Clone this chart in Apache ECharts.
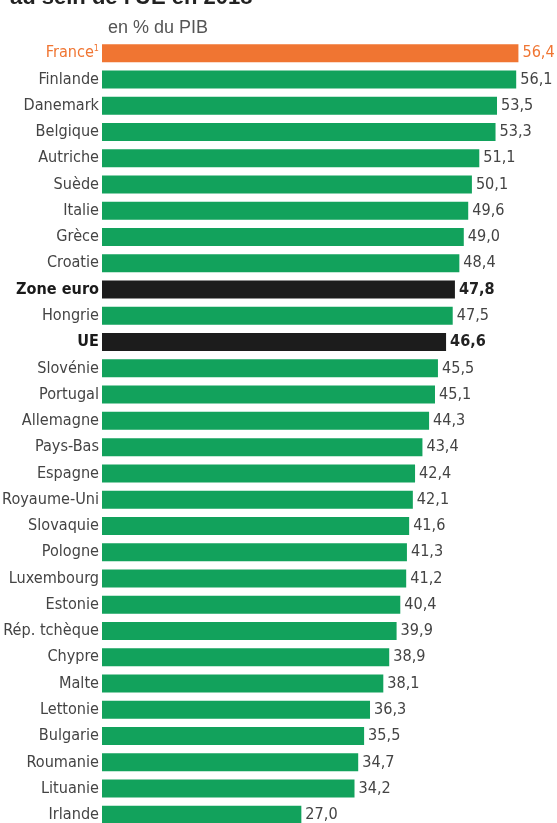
<!DOCTYPE html>
<html>
<head>
<meta charset="utf-8">
<script src="https://cdn.jsdelivr.net/npm/echarts@6/dist/echarts.min.js"></script>
<style>
html,body{margin:0;padding:0;background:#fff;}
#chart{width:557px;height:823px;}
</style>
</head>
<body>
<div id="chart"></div>
<script>
const categories = ["France","Finlande","Danemark","Belgique","Autriche","Suède","Italie","Grèce","Croatie","Zone euro","Hongrie","UE","Slovénie","Portugal","Allemagne","Pays-Bas","Espagne","Royaume-Uni","Slovaquie","Pologne","Luxembourg","Estonie","Rép. tchèque","Chypre","Malte","Lettonie","Bulgarie","Roumanie","Lituanie","Irlande"];
const values = [56.4,56.1,53.5,53.3,51.1,50.1,49.6,49.0,48.4,47.8,47.5,46.6,45.5,45.1,44.3,43.4,42.4,42.1,41.6,41.3,41.2,40.4,39.9,38.9,38.1,36.3,35.5,34.7,34.2,27.0];
const highlightOrange = ["France"];
const highlightBlack = ["Zone euro","UE"];
const titleText = "au sein de l'UE en 2018";
const subtitleText = "en % du PIB";

const ORANGE = '#F07532', GREEN = '#12A25C', BLACK = '#1C1C1C';

// pick a condensed font if one is installed, sized so "Royaume-Uni" is ~97px wide
const cv = document.createElement('canvas').getContext('2d');
function w(font, s) { cv.font = font; return cv.measureText(s || 'Royaume-Uni').width; }
let LABEL_FONT = '"Liberation Sans",Arial,sans-serif';
let LABEL_SIZE = Math.min(20, 18 * 97 / w('18px "Liberation Sans",Arial,sans-serif'));
const cands = ['"Liberation Sans Narrow"', '"DejaVu Sans Condensed"', '"Roboto Condensed"', '"Open Sans Condensed"'];
const ref1 = w('18px monospace');
for (const c of cands) {
  const a = w('18px ' + c + ',monospace'), b = w('18px ' + c + ',serif');
  if (Math.abs(a - b) < 0.5 && Math.abs(a - ref1) > 0.5) {
    LABEL_FONT = c + ',sans-serif';
    LABEL_SIZE = Math.min(20, Math.max(14, 18 * 97 / a));
    break;
  }
}

const data = categories.map((c, i) => {
  let color = GREEN, lcolor = '#444', weight = 'normal';
  if (highlightOrange.includes(c)) { color = ORANGE; lcolor = ORANGE; }
  if (highlightBlack.includes(c)) { color = BLACK; lcolor = '#222'; weight = 'bold'; }
  return {
    value: values[i],
    itemStyle: { color: color },
    label: { color: lcolor, fontWeight: weight }
  };
});

const chart = echarts.init(document.getElementById('chart'));
chart.setOption({
  animation: false,
  graphic: [
    { type: 'text', left: 10, top: -13, style: { text: titleText, font: 'bold 22px "Liberation Sans",Arial,sans-serif', fill: '#222' } },
    { type: 'text', left: 108, top: 19, style: { text: subtitleText, font: '18px "Liberation Sans",Arial,sans-serif', fill: '#555' } }
  ],
  grid: { left: 102, width: 443, top: 40, height: 788, containLabel: false, outerBoundsMode: 'none' },
  xAxis: { type: 'value', min: 0, max: 60, show: false },
  yAxis: {
    type: 'category', data: categories, inverse: true,
    axisLine: { show: false }, axisTick: { show: false },
    axisLabel: {
      margin: 3,
      fontFamily: LABEL_FONT, fontSize: LABEL_SIZE, color: '#444',
      formatter: function (v) {
        if (highlightOrange.includes(v)) return '{o|' + v + '}{sup|1}';
        if (highlightBlack.includes(v)) return '{b|' + v + '}';
        return v;
      },
      rich: {
        o: { color: ORANGE, fontFamily: LABEL_FONT, fontSize: LABEL_SIZE },
        sup: { color: ORANGE, fontFamily: LABEL_FONT, fontSize: 9, verticalAlign: 'top', padding: [0, 0, 8, 0] },
        b: { color: '#1a1a1a', fontFamily: LABEL_FONT, fontSize: LABEL_SIZE, fontWeight: 'bold' }
      }
    }
  },
  series: [{
    type: 'bar', data: data, barWidth: 18,
    label: {
      show: true, position: 'right', distance: 4,
      fontFamily: LABEL_FONT, fontSize: LABEL_SIZE,
      formatter: p => p.value.toFixed(1).replace('.', ',')
    }
  }]
});
</script>
</body>
</html>
